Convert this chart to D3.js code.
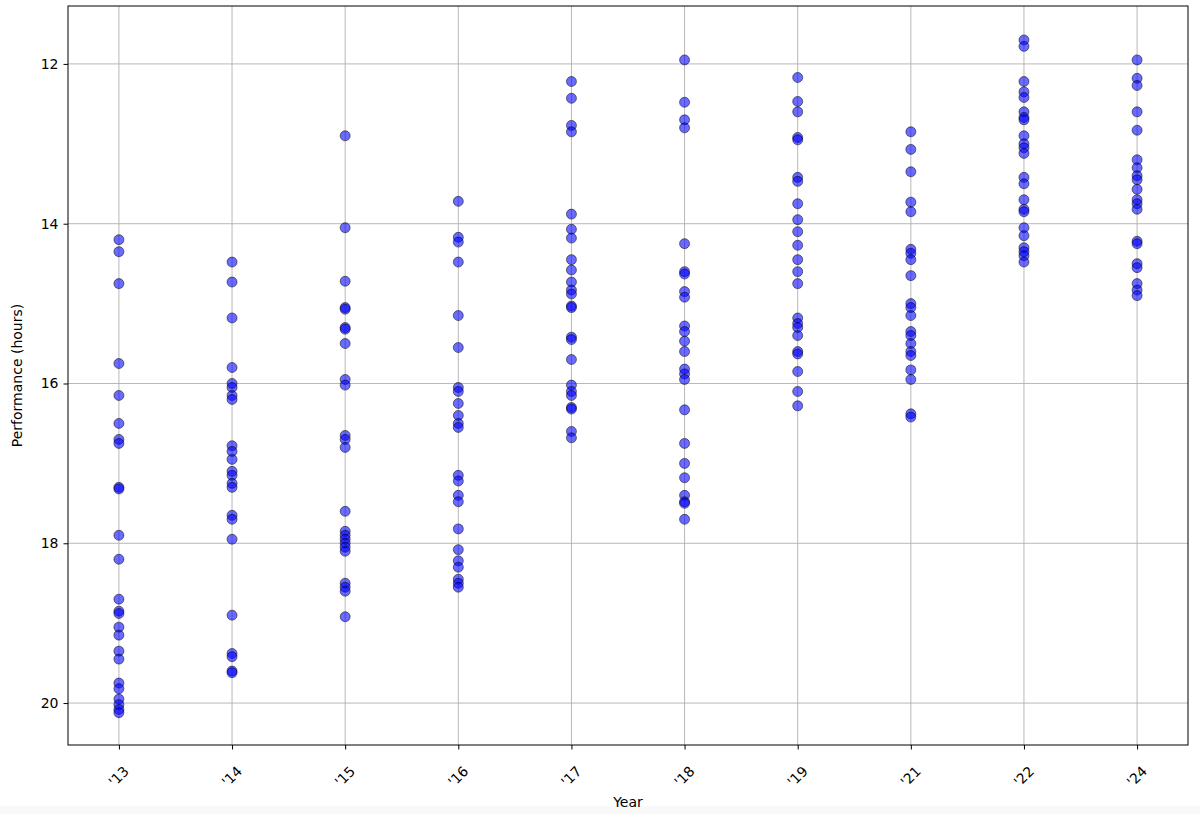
<!DOCTYPE html>
<html>
<head>
<meta charset="utf-8">
<script src="https://cdn.jsdelivr.net/npm/d3@7"></script>
<style>
  html, body { margin: 0; padding: 0; background: #fff; }
  svg { display: block; }
  text { font-family: "DejaVu Sans", sans-serif; }
</style>
</head>
<body>
<svg id="chart" width="1200" height="814"></svg>
<script>
const years = ["'13", "'14", "'15", "'16", "'17", "'18", "'19", "'21", "'22", "'24"];

const v13 = [14.2, 14.35, 14.75, 15.75, 16.15, 16.5, 16.7, 16.75, 17.3, 17.32, 17.9, 18.2, 18.7, 18.85, 18.88, 19.05, 19.15, 19.35, 19.45, 19.75, 19.82, 19.95, 20.02, 20.08, 20.12];
const v14 = [14.48, 14.73, 15.18, 15.8, 16.0, 16.05, 16.15, 16.2, 16.78, 16.85, 16.95, 17.1, 17.15, 17.25, 17.3, 17.65, 17.7, 17.95, 18.9, 19.38, 19.42, 19.6, 19.62];
const v15 = [12.9, 14.05, 14.72, 15.05, 15.07, 15.3, 15.32, 15.5, 15.95, 16.02, 16.65, 16.7, 16.8, 17.6, 17.85, 17.9, 17.95, 18.0, 18.05, 18.1, 18.5, 18.55, 18.6, 18.92];
const v16 = [13.72, 14.17, 14.23, 14.48, 15.15, 15.55, 16.05, 16.1, 16.25, 16.4, 16.5, 16.55, 17.15, 17.22, 17.4, 17.48, 17.82, 18.08, 18.22, 18.3, 18.45, 18.5, 18.55];
const v17 = [12.22, 12.43, 12.77, 12.85, 13.88, 14.07, 14.18, 14.45, 14.58, 14.73, 14.83, 14.88, 15.03, 15.05, 15.42, 15.45, 15.7, 16.02, 16.1, 16.15, 16.3, 16.32, 16.6, 16.68];
const v18 = [11.95, 12.48, 12.7, 12.8, 14.25, 14.6, 14.63, 14.85, 14.92, 15.28, 15.35, 15.47, 15.6, 15.82, 15.88, 15.95, 16.33, 16.75, 17.0, 17.18, 17.4, 17.48, 17.5, 17.7];
const v19 = [12.17, 12.47, 12.6, 12.92, 12.95, 13.42, 13.47, 13.75, 13.95, 14.1, 14.27, 14.45, 14.6, 14.75, 15.18, 15.25, 15.3, 15.4, 15.6, 15.63, 15.85, 16.1, 16.28];
const v21 = [12.85, 13.07, 13.35, 13.73, 13.85, 14.32, 14.37, 14.45, 14.65, 15.0, 15.05, 15.15, 15.35, 15.4, 15.5, 15.6, 15.65, 15.83, 15.95, 16.38, 16.42];
const v22 = [11.7, 11.78, 12.22, 12.35, 12.42, 12.6, 12.67, 12.7, 12.9, 13.0, 13.05, 13.12, 13.42, 13.5, 13.7, 13.82, 13.85, 14.05, 14.15, 14.3, 14.35, 14.4, 14.48];
const v24 = [11.95, 12.18, 12.27, 12.6, 12.83, 13.2, 13.3, 13.4, 13.45, 13.57, 13.7, 13.75, 13.82, 14.22, 14.25, 14.5, 14.55, 14.75, 14.83, 14.9];

const seriesValues = [v13, v14, v15, v16, v17, v18, v19, v21, v22, v24];
const yTicks = [12, 14, 16, 18, 20];

const points = [];
seriesValues.forEach((vals, i) => vals.forEach(v => points.push({ i, v })));

const margin = { left: 68, right: 12, top: 6, bottom: 69 };
const W = 1200, H = 814;
const iw = W - margin.left - margin.right;
const ih = H - margin.top - margin.bottom;

const svg = d3.select("#chart");

svg.append("rect").attr("x", 0).attr("y", 806).attr("width", W).attr("height", 8).attr("fill", "#f8f8f8");

const g = svg.append("g").attr("transform", `translate(${margin.left},${margin.top})`);

const x = d3.scaleLinear().domain([-0.45, years.length - 1 + 0.45]).range([0, iw]);
const y = d3.scaleLinear().domain([11.275, 20.525]).range([0, ih]);

// grid
g.append("g").selectAll("line").data(d3.range(years.length)).join("line")
  .attr("x1", d => x(d)).attr("x2", d => x(d)).attr("y1", 0).attr("y2", ih)
  .attr("stroke", "#b0b0b0").attr("stroke-width", 0.9);
g.append("g").selectAll("line").data(yTicks).join("line")
  .attr("x1", 0).attr("x2", iw).attr("y1", d => y(d)).attr("y2", d => y(d))
  .attr("stroke", "#b0b0b0").attr("stroke-width", 0.9);

// points
g.append("g").selectAll("circle").data(points).join("circle")
  .attr("cx", d => x(d.i)).attr("cy", d => y(d.v)).attr("r", 5)
  .attr("fill", "rgba(0,0,255,0.58)")
  .attr("stroke", "rgba(0,0,0,0.55)").attr("stroke-width", 0.9);

// axes
const xAxis = d3.axisBottom(x).tickValues(d3.range(years.length)).tickFormat(i => years[i])
  .tickSize(4.5).tickPadding(3);
const xg = g.append("g").attr("transform", `translate(0,${ih})`).call(xAxis);
xg.select(".domain").remove();
xg.selectAll(".tick line").attr("stroke", "#000").attr("stroke-width", 1);
xg.selectAll(".tick text")
  .attr("font-size", 14).attr("fill", "#000")
  .attr("text-anchor", "middle")
  .attr("dy", null).attr("y", 0)
  .attr("transform", "translate(0,32) rotate(-45)")
  .attr("dominant-baseline", "middle");

const yAxis = d3.axisLeft(y).tickValues(yTicks).tickSize(4.5).tickPadding(5);
const yg = g.append("g").call(yAxis);
yg.select(".domain").remove();
yg.selectAll(".tick line").attr("stroke", "#000").attr("stroke-width", 1);
yg.selectAll(".tick text").attr("font-size", 14).attr("fill", "#000");

// frame
g.append("rect").attr("x", 0).attr("y", 0).attr("width", iw).attr("height", ih)
  .attr("fill", "none").attr("stroke", "#000").attr("stroke-width", 1);

// labels
svg.append("text").attr("x", margin.left + iw / 2).attr("y", 807)
  .attr("text-anchor", "middle").attr("font-size", 14).text("Year");
svg.append("text").attr("transform", `translate(22,${margin.top + ih / 2}) rotate(-90)`)
  .attr("text-anchor", "middle").attr("font-size", 14).text("Performance (hours)");
</script>
</body>
</html>
